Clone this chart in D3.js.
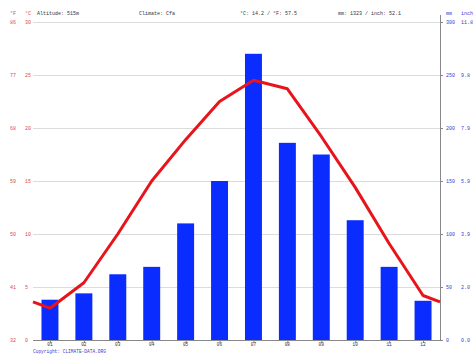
<!DOCTYPE html>
<html>
<head>
<meta charset="utf-8">
<script src="https://cdn.jsdelivr.net/npm/d3@7"></script>
<style>
  html, body { margin: 0; padding: 0; background: #fff; }
  svg { display: block; font-family: 'Liberation Mono', 'DejaVu Sans Mono', monospace; }
</style>
</head>
<body>
<div id="chart"></div>
<script>
const months = ['01', '02', '03', '04', '05', '06', '07', '08', '09', '10', '11', '12']
const precipMm = [38, 44, 62, 69, 110, 150, 270, 186, 175, 113, 69, 37]
const tempC = [3.0, 5.4, 10.0, 15.0, 18.9, 22.5, 24.5, 23.7, 19.2, 14.4, 9.1, 4.2]
const edgeTempC = 3.6
const cTicks = [0, 5, 10, 15, 20, 25, 30]
const fLabels = ['32', '41', '50', '59', '68', '77', '86']
const mmTicks = [0, 50, 100, 150, 200, 250, 300]
const inchLabels = ['0.0', '2.0', '3.9', '5.9', '7.9', '9.8', '11.8']

const W = 474
const H = 355
const plot = { left: 33, right: 440, top: 22, bottom: 340 }

const red = '#e8141b'
const labelRed = '#e04848'
const blue = '#0a2cff'
const labelBlue = '#3a3ad0'

const svg = d3.select('#chart').append('svg')
  .attr('width', W)
  .attr('height', H)

const x = d3.scaleBand().domain(months).range([plot.left, plot.right]).paddingInner(0.5).paddingOuter(0.25)
const xc = (m) => x(m) + x.bandwidth() / 2
const yT = d3.scaleLinear().domain([0, 30]).range([plot.bottom, plot.top])
const yP = d3.scaleLinear().domain([0, 300]).range([plot.bottom, plot.top])

// grid
svg.append('g').selectAll('line')
  .data(cTicks.filter((d) => d > 0))
  .join('line')
  .attr('x1', plot.left).attr('x2', plot.right)
  .attr('y1', (d) => yT(d) + 0.5).attr('y2', (d) => yT(d) + 0.5)
  .attr('stroke', '#dcdcdc')
  .attr('stroke-width', 1)

// header
const header = [
  ['°F', 10], ['°C', 25], ['Altitude: 515m', 37], ['Climate: Cfa', 139],
  ['°C: 14.2 / °F: 57.5', 240], ['mm: 1323 / inch: 52.1', 338],
]
svg.append('g').selectAll('text')
  .data(header)
  .join('text')
  .attr('x', (d) => d[1]).attr('y', 15)
  .attr('font-size', 5)
  .attr('fill', (d, i) => (i < 2 ? labelRed : '#333'))
  .text((d) => d[0])
svg.append('text').attr('x', 446).attr('y', 15).attr('font-size', 5).attr('fill', labelBlue).text('mm')
svg.append('text').attr('x', 461).attr('y', 15).attr('font-size', 5).attr('fill', labelBlue).text('inch')

// left labels
const leftG = svg.append('g').attr('font-size', 5).attr('fill', labelRed)
leftG.selectAll('text.f').data(cTicks).join('text').attr('class', 'f')
  .attr('x', 10).attr('y', (d) => yT(d) + 2).text((d, i) => fLabels[i])
leftG.selectAll('text.c').data(cTicks).join('text').attr('class', 'c')
  .attr('x', 25).attr('y', (d) => yT(d) + 2).text((d) => d)

// right labels
const rightG = svg.append('g').attr('font-size', 5).attr('fill', labelBlue)
rightG.selectAll('text.mm').data(mmTicks).join('text').attr('class', 'mm')
  .attr('x', 446).attr('y', (d) => yP(d) + 2).text((d) => d)
rightG.selectAll('text.in').data(mmTicks).join('text').attr('class', 'in')
  .attr('x', 461).attr('y', (d) => yP(d) + 2).text((d, i) => inchLabels[i])
rightG.selectAll('line').data(mmTicks).join('line')
  .attr('x1', plot.right).attr('x2', plot.right + 3)
  .attr('y1', (d) => yP(d) + 0.5).attr('y2', (d) => yP(d) + 0.5)
  .attr('stroke', '#888')

// bars
svg.append('g').selectAll('rect')
  .data(months)
  .join('rect')
  .attr('x', (m) => x(m))
  .attr('width', x.bandwidth())
  .attr('y', (m, i) => yP(precipMm[i]))
  .attr('height', (m, i) => plot.bottom - yP(precipMm[i]))
  .attr('fill', blue)

// axes lines
svg.append('line')
  .attr('x1', plot.left).attr('x2', plot.right).attr('y1', plot.bottom + 0.5).attr('y2', plot.bottom + 0.5)
  .attr('stroke', '#888')
svg.append('line')
  .attr('x1', plot.right + 0.5).attr('x2', plot.right + 0.5).attr('y1', 15).attr('y2', plot.bottom)
  .attr('stroke', '#888')

// month ticks + labels
const xg = svg.append('g')
xg.selectAll('line').data(months).join('line')
  .attr('x1', (m) => xc(m) + 0.5).attr('x2', (m) => xc(m) + 0.5)
  .attr('y1', plot.bottom).attr('y2', plot.bottom + 3)
  .attr('stroke', '#888')
xg.selectAll('text').data(months).join('text')
  .attr('x', (m) => xc(m)).attr('y', plot.bottom + 6)
  .attr('text-anchor', 'middle')
  .attr('font-size', 4.5)
  .attr('fill', '#333')
  .text((m) => m)

// temperature line
const pts = [[plot.left, edgeTempC]]
  .concat(months.map((m, i) => [xc(m), tempC[i]]))
  .concat([[plot.right, edgeTempC]])
svg.append('path')
  .datum(pts)
  .attr('fill', 'none')
  .attr('stroke', red)
  .attr('stroke-width', 3)
  .attr('stroke-linejoin', 'round')
  .attr('d', d3.line().x((d) => d[0]).y((d) => yT(d[1])))

svg.append('text')
  .attr('x', 33).attr('y', 353)
  .attr('font-size', 4.5)
  .attr('fill', labelBlue)
  .text('Copyright: CLIMATE-DATA.ORG')
</script>
</body>
</html>
